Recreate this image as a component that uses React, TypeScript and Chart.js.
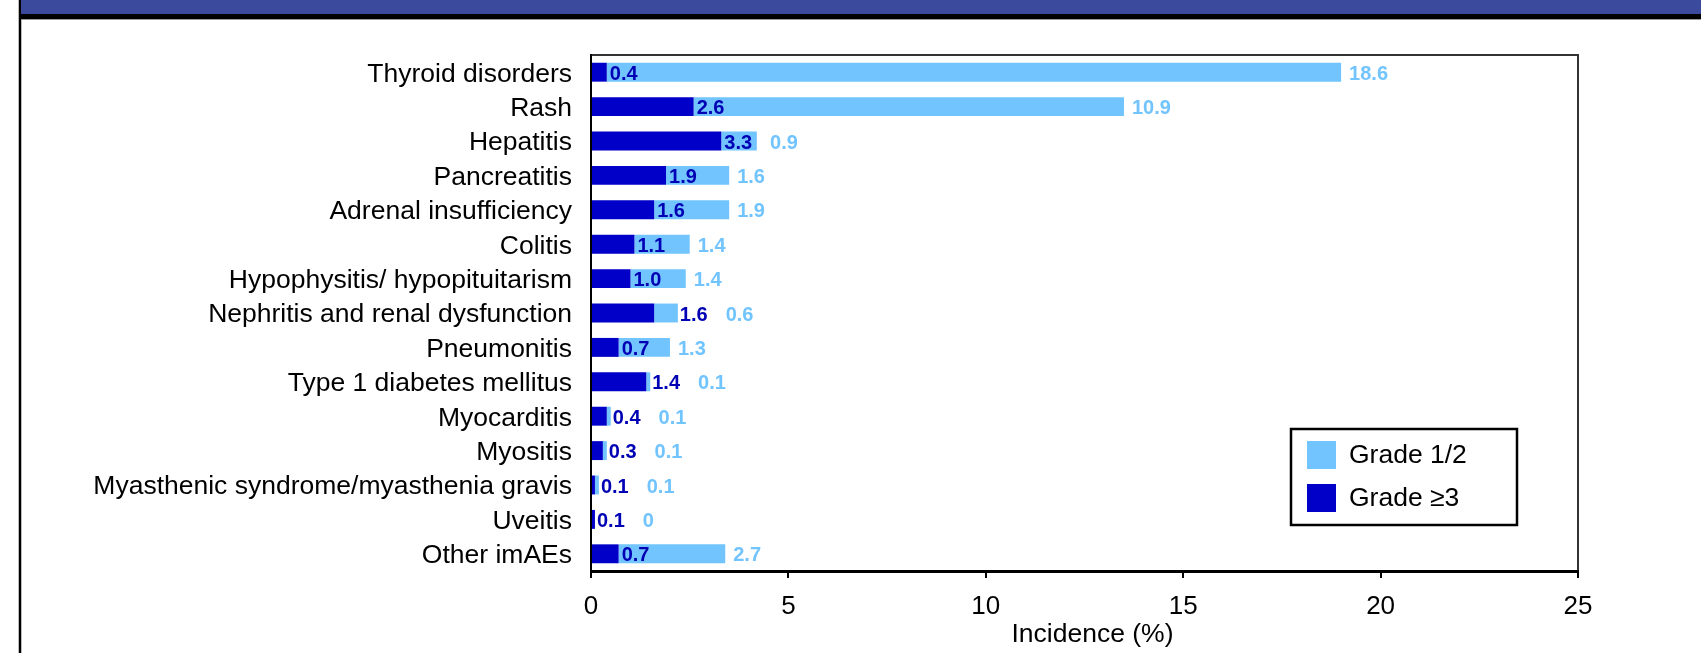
import React, { useEffect, useRef } from "react";
import { Chart, registerables } from "chart.js";

Chart.register(...registerables);

const categories = [
  "Thyroid disorders",
  "Rash",
  "Hepatitis",
  "Pancreatitis",
  "Adrenal insufficiency",
  "Colitis",
  "Hypophysitis/ hypopituitarism",
  "Nephritis and renal dysfunction",
  "Pneumonitis",
  "Type 1 diabetes mellitus",
  "Myocarditis",
  "Myositis",
  "Myasthenic syndrome/myasthenia gravis",
  "Uveitis",
  "Other imAEs",
];

const grade3Values = [0.4, 2.6, 3.3, 1.9, 1.6, 1.1, 1.0, 1.6, 0.7, 1.4, 0.4, 0.3, 0.1, 0.1, 0.7];
const grade12Values = [18.6, 10.9, 0.9, 1.6, 1.9, 1.4, 1.4, 0.6, 1.3, 0.1, 0.1, 0.1, 0.1, 0, 2.7];

const xTickValues = [0, 5, 10, 15, 20, 25];
const seriesNames = ["Grade \u22653", "Grade 1/2"];
const xTitle = "Incidence (%)";

const FONT = '"Liberation Sans", Arial, Helvetica, sans-serif';
const DARK = "#0000C8";
const LIGHT = "#72C4FF";
const DARK_TEXT = "#0000B4";
const LIGHT_TEXT = "#72C4FF";
const BANNER = "#3B4A9C";

const fmt = (v: number) => (v === 0 ? "0" : v.toFixed(1));

const decorPlugin = {
  id: "decor",
  beforeDraw(chart: any) {
    const { ctx, width, height, chartArea } = chart;
    ctx.save();
    ctx.fillStyle = "#ffffff";
    ctx.fillRect(0, 0, width, height);
    // banner
    ctx.fillStyle = BANNER;
    ctx.fillRect(21, 0, width - 21, 14);
    ctx.fillStyle = "#000000";
    ctx.fillRect(21, 14, width - 21, 5);
    ctx.fillStyle = "#9a9a9a";
    ctx.fillRect(21, 19, width - 21, 1);
    // left page rule
    ctx.fillStyle = "#000000";
    ctx.fillRect(19, 0, 2, height);
    ctx.fillStyle = "#bbbbbb";
    ctx.fillRect(18, 0, 1, height);
    ctx.fillRect(21, 20, 1, height - 20);
    // plot frame (top + right)
    ctx.strokeStyle = "#333333";
    ctx.lineWidth = 2;
    ctx.beginPath();
    ctx.moveTo(chartArea.left, chartArea.top);
    ctx.lineTo(chartArea.right, chartArea.top);
    ctx.lineTo(chartArea.right, chartArea.bottom);
    ctx.stroke();
    ctx.restore();
  },
};

const labelPlugin = {
  id: "barLabels",
  afterDatasetsDraw(chart: any) {
    const ctx = chart.ctx;
    const darkMeta = chart.getDatasetMeta(0);
    const lightMeta = chart.getDatasetMeta(1);
    const darkData = chart.data.datasets[0].data as number[];
    const lightData = chart.data.datasets[1].data as number[];
    ctx.save();
    ctx.font = `bold 20px ${FONT}`;
    ctx.textBaseline = "middle";
    ctx.textAlign = "left";
    darkMeta.data.forEach((bar: any, i: number) => {
      const darkEnd = bar.x;
      const totalEnd = lightMeta.data[i].x;
      const y = bar.y + 2;
      const dText = fmt(darkData[i]);
      const dW = ctx.measureText(dText).width;
      let dx = darkEnd + 3;
      if (dx + dW + 2 > totalEnd) dx = totalEnd + 2;
      ctx.fillStyle = DARK_TEXT;
      ctx.fillText(dText, dx, y);
      const lText = fmt(lightData[i]);
      const lx = Math.max(totalEnd + 8, dx + dW + 18);
      ctx.fillStyle = LIGHT_TEXT;
      ctx.fillText(lText, lx, y);
    });
    ctx.restore();
  },
};

const legendPlugin = {
  id: "boxLegend",
  afterDraw(chart: any) {
    const { ctx, chartArea } = chart;
    const x0 = chartArea.right - 287;
    const y0 = chartArea.bottom - 142;
    const w = 226;
    const h = 96;
    ctx.save();
    ctx.fillStyle = "#ffffff";
    ctx.fillRect(x0, y0, w, h);
    ctx.strokeStyle = "#000000";
    ctx.lineWidth = 2.5;
    ctx.strokeRect(x0, y0, w, h);
    const items = [...chart.data.datasets].reverse();
    ctx.font = `26.5px ${FONT}`;
    ctx.textBaseline = "middle";
    ctx.textAlign = "left";
    items.forEach((ds: any, i: number) => {
      const sy = y0 + 12 + i * 43;
      ctx.fillStyle = ds.backgroundColor;
      ctx.fillRect(x0 + 16, sy, 29, 28);
      ctx.fillStyle = "#000000";
      ctx.fillText(ds.label, x0 + 58, sy + 15);
    });
    // x axis title
    const xs = chart.scales.x;
    ctx.font = `26.5px ${FONT}`;
    ctx.textAlign = "center";
    ctx.textBaseline = "middle";
    ctx.fillStyle = "#000000";
    ctx.fillText(xTitle, (xs.left + xs.right) / 2 + 8, chartArea.bottom + 64);
    ctx.restore();
  },
};

export default function App() {
  const canvasRef = useRef<HTMLCanvasElement | null>(null);

  useEffect(() => {
    if (!canvasRef.current) return;
    const chart = new Chart(canvasRef.current, {
      type: "bar",
      data: {
        labels: categories,
        datasets: [
          {
            label: seriesNames[0],
            data: grade3Values,
            backgroundColor: DARK,
            borderWidth: 0,
            barPercentage: 0.55,
            categoryPercentage: 1,
          },
          {
            label: seriesNames[1],
            data: grade12Values,
            backgroundColor: LIGHT,
            borderWidth: 0,
            barPercentage: 0.55,
            categoryPercentage: 1,
          },
        ],
      },
      options: {
        indexAxis: "y",
        responsive: true,
        maintainAspectRatio: false,
        animation: false,
        layout: { padding: { top: 55, right: 123, left: 0, bottom: 0 } },
        plugins: {
          legend: { display: false },
          tooltip: { enabled: false },
          title: { display: false },
        },
        scales: {
          x: {
            type: "linear",
            stacked: true,
            min: 0,
            max: 25,
            afterBuildTicks: (scale: any) => {
              scale.ticks = xTickValues.map((v) => ({ value: v }));
            },
            afterFit: (scale: any) => {
              scale.height = 82;
            },
            ticks: {
              color: "#000000",
              font: { family: FONT, size: 26 },
              padding: 13,
              maxRotation: 0,
              callback: (v: any) => String(v),
            },
            grid: {
              display: true,
              drawOnChartArea: false,
              drawTicks: true,
              tickLength: 7,
              color: "#000000",
              lineWidth: 2,
            },
            border: { display: true, color: "#000000", width: 3 },
            title: { display: false, text: xTitle },
          },
          y: {
            type: "category",
            stacked: true,
            afterFit: (scale: any) => {
              scale.width = 591;
            },
            ticks: {
              color: "#000000",
              font: { family: FONT, size: 26.5 },
              padding: 19,
              labelOffset: 2,
              autoSkip: false,
            },
            grid: { display: false, drawTicks: false },
            border: { display: true, color: "#000000", width: 2 },
          },
        },
      },
      plugins: [decorPlugin, labelPlugin, legendPlugin],
    } as any);
    return () => chart.destroy();
  }, []);

  return (
    <div style={{ position: "absolute", left: 0, top: 0, width: 1701, height: 653 }}>
      <canvas ref={canvasRef} />
    </div>
  );
}
